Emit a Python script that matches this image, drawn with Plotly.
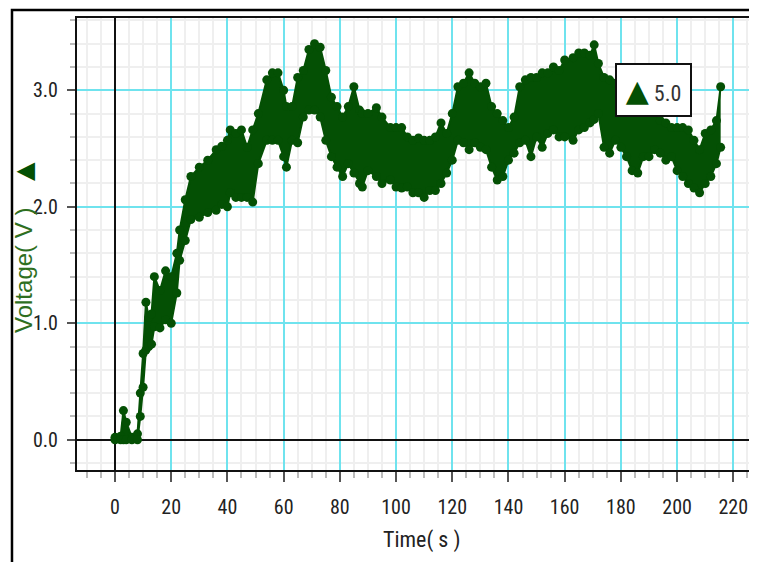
import plotly.graph_objects as go

# ---- data ----
time_s = [0, 2, 3, 4, 6, 8, 9, 10, 11, 12, 13, 14, 16, 18, 20, 22, 23, 25, 27, 30,
          33, 36, 38, 40, 41, 43, 45, 47, 49, 51, 54, 56, 58, 60, 61, 63, 65, 67, 69, 71,
          73, 75, 77, 79, 81, 83, 85, 87, 88, 90, 93, 95, 98, 100, 102, 104, 106, 108, 110, 112,
          114, 116, 118, 120, 122, 124, 126, 128, 130, 132, 134, 136, 138, 140, 142, 144, 146, 148, 150, 152,
          154, 156, 158, 160, 163, 165, 167, 169, 170.5, 172, 174, 176, 178, 180, 182, 184, 186, 188, 190, 192,
          194, 196, 198, 200, 202, 204, 206, 208, 210, 212, 214, 215.5]
volt_upper = [0.02, 0.03, 0.25, 0.15, 0.02, 0.05, 0.40, 0.74, 1.18, 1.05, 1.08, 1.40, 1.28, 1.45, 1.40, 1.60, 1.80, 2.06, 2.26, 2.34,
              2.40, 2.49, 2.52, 2.57, 2.66, 2.63, 2.66, 2.51, 2.66, 2.80, 3.09, 3.15, 3.15, 3.00, 2.86, 2.86, 3.11, 3.17, 3.35, 3.40,
              3.37, 3.17, 2.94, 2.86, 2.77, 2.86, 3.03, 2.83, 2.80, 2.80, 2.85, 2.77, 2.68, 2.68, 2.68, 2.60, 2.57, 2.59, 2.57, 2.57,
              2.60, 2.72, 2.63, 2.80, 3.03, 3.06, 3.15, 3.06, 3.03, 3.06, 2.86, 2.80, 2.74, 2.68, 2.77, 3.03, 3.09, 3.11, 3.11, 3.15,
              3.15, 3.20, 3.17, 3.26, 3.28, 3.32, 3.32, 3.30, 3.39, 3.23, 3.11, 3.09, 3.06, 2.95, 2.92, 2.90, 2.88, 2.85, 2.82, 2.80,
              2.74, 2.72, 2.68, 2.68, 2.68, 2.66, 2.57, 2.49, 2.63, 2.66, 2.74, 3.03]
volt_lower = [0.00, 0.00, 0.00, 0.00, 0.00, 0.00, 0.20, 0.45, 0.77, 0.80, 0.82, 0.97, 0.96, 1.03, 1.00, 1.26, 1.54, 1.71, 1.89, 1.91,
              1.95, 1.97, 2.02, 2.00, 2.12, 2.08, 2.08, 2.08, 2.04, 2.37, 2.57, 2.57, 2.57, 2.43, 2.34, 2.57, 2.55, 2.77, 2.83, 2.83,
              2.77, 2.57, 2.43, 2.34, 2.26, 2.37, 2.29, 2.20, 2.17, 2.31, 2.26, 2.20, 2.23, 2.17, 2.16, 2.17, 2.12, 2.12, 2.08, 2.14,
              2.14, 2.20, 2.29, 2.40, 2.57, 2.55, 2.49, 2.55, 2.51, 2.49, 2.34, 2.23, 2.26, 2.40, 2.46, 2.55, 2.57, 2.43, 2.60, 2.51,
              2.63, 2.66, 2.60, 2.60, 2.57, 2.66, 2.68, 2.72, 2.75, 2.80, 2.51, 2.46, 2.57, 2.51, 2.43, 2.31, 2.29, 2.43, 2.43, 2.49,
              2.46, 2.40, 2.43, 2.31, 2.26, 2.20, 2.16, 2.12, 2.20, 2.26, 2.37, 2.51]
x_tickvals = [0, 20, 40, 60, 80, 100, 120, 140, 160, 180, 200, 220]
y_tickvals = [0.0, 1.0, 2.0, 3.0]
y_ticktext = ["0.0", "1.0", "2.0", "3.0"]
legend_label = "5.0"

GREEN = "#045004"
NARROW = "Liberation Sans Narrow, Arial Narrow, Roboto Condensed, Roboto, Liberation Sans, Arial, sans-serif"

fig = go.Figure()
fig.add_trace(go.Scatter(x=time_s, y=volt_upper, mode="lines+markers",
                         line=dict(color=GREEN, width=2),
                         marker=dict(color=GREEN, size=9), showlegend=False))
fig.add_trace(go.Scatter(x=time_s, y=volt_lower, mode="lines+markers",
                         line=dict(color=GREEN, width=2), fill="tonexty", fillcolor=GREEN,
                         marker=dict(color=GREEN, size=9), showlegend=False))

fig.update_xaxes(range=[-13.52, 228.43], tickvals=x_tickvals,
                 ticks="outside", ticklen=10, tickwidth=2, tickcolor="#555",
                 tickfont=dict(family=NARROW, size=20, color="#222"),
                 ticklabelstandoff=8,
                 showgrid=True, gridcolor="#6fe3ee", gridwidth=2,
                 zeroline=True, zerolinecolor="#111", zerolinewidth=2,
                 showline=True, linecolor="#111", linewidth=2, mirror=True,
                 minor=dict(dtick=5, tick0=0, ticks="outside", ticklen=6, tickwidth=2,
                            tickcolor="#bbb", showgrid=True, gridcolor="#efefef", gridwidth=2))
fig.update_yaxes(range=[-0.2602, 3.6207], tickvals=y_tickvals, ticktext=y_ticktext,
                 ticks="outside", ticklen=8, tickwidth=2, tickcolor="#555",
                 tickfont=dict(family=NARROW, size=20, color="#222"),
                 ticklabelstandoff=5,
                 showgrid=True, gridcolor="#6fe3ee", gridwidth=2,
                 zeroline=True, zerolinecolor="#111", zerolinewidth=2,
                 showline=True, linecolor="#111", linewidth=2, mirror=False,
                 minor=dict(dtick=0.2, tick0=0, ticks="outside", ticklen=5, tickwidth=2,
                            tickcolor="#bbb", showgrid=True, gridcolor="#efefef", gridwidth=2))

# page has an 8px body margin, so figure coordinates = screen coordinates - 8
fig.update_layout(
    width=749, height=554,
    margin=dict(l=69, r=0, t=10, b=92, autoexpand=False),
    paper_bgcolor="white", plot_bgcolor="white",
    showlegend=False,
    shapes=[dict(type="rect", xref="paper", yref="paper",
                 x0=-0.0956, x1=1.2, y0=-0.4, y1=1.0177,
                 line=dict(color="black", width=2.5), layer="below")],
    annotations=[
        dict(text="Time( s )", xref="paper", yref="paper",
             x=(421 - 77) / 680, y=(470 - 540) / 452, xanchor="center", yanchor="middle",
             showarrow=False, font=dict(family=NARROW, size=22, color="#222")),
        dict(text="Voltage( V )    <span style='font-family:DejaVu Sans;font-size:24px;color:" + GREEN + "'>▲</span>",
             xref="paper", yref="paper", textangle=-90,
             x=(24 - 77) / 680, y=(470 - 248) / 452, xanchor="center", yanchor="middle",
             showarrow=False, font=dict(family="Liberation Sans, Arial, sans-serif", size=24, color="#2f6f1f")),
        dict(text="<span style='font-family:DejaVu Sans;font-size:30px;color:" + GREEN + "'>▲</span> " + legend_label,
             xref="paper", yref="paper",
             x=(653.5 - 77) / 680, y=(470 - 90) / 452, xanchor="center", yanchor="middle",
             width=73, height=50, borderpad=0,
             showarrow=False, bgcolor="white", bordercolor="#111", borderwidth=2,
             font=dict(family=NARROW, size=22, color="#333")),
    ],
)

fig.write_html("out.html")
